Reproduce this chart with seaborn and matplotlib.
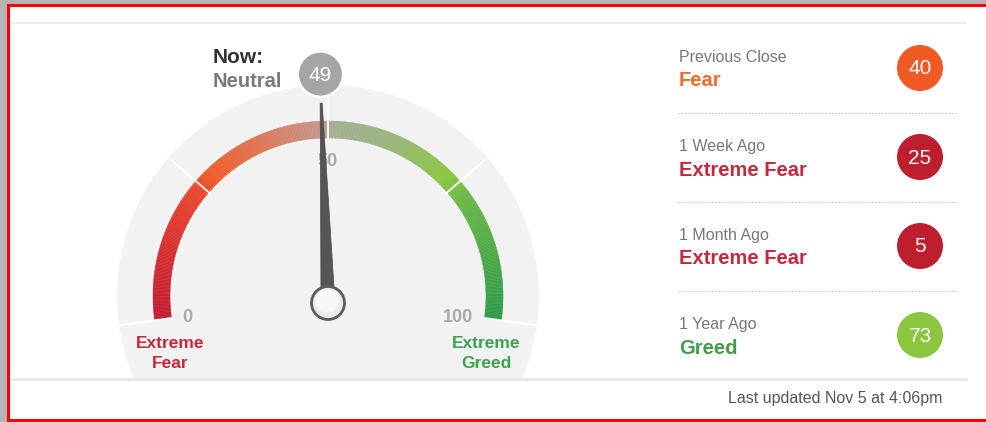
import numpy as np
import pandas as pd
import matplotlib.pyplot as plt
import seaborn as sns
from matplotlib.patches import Circle, Polygon, Rectangle
from matplotlib.collections import PolyCollection
from matplotlib.colors import LinearSegmentedColormap

# Fear & Greed index values
now_value = 49
now_rating = 'Neutral'
gauge_ticks = [0, 50, 100]
zone_edges = [0, 25, 50, 75, 100]
hist_periods = ['Previous Close', '1 Week Ago', '1 Month Ago', '1 Year Ago']
hist_values = [40, 25, 5, 73]
hist_ratings = ['Fear', 'Extreme Fear', 'Extreme Fear', 'Greed']
updated = 'Last updated Nov 5 at 4:06pm'

bubble_colors = {'Extreme Fear': '#bf1e2e', 'Fear': '#f15a24', 'Neutral': '#a5a5a5',
                 'Greed': '#8cc63f', 'Extreme Greed': '#2e9e47'}
text_colors = {'Extreme Fear': '#c8283c', 'Fear': '#f26a2e', 'Neutral': '#7a7a7a',
               'Greed': '#3f9e46', 'Extreme Greed': '#3aa34b'}

sns.set_theme(style='white')
plt.rcParams['font.family'] = ['Liberation Sans', 'DejaVu Sans']

fig = plt.figure(figsize=(9.87, 4.22), dpi=100, facecolor='#b5b5b5')
ax = fig.add_axes([0, 0, 1, 1])

# card with red frame
ax.add_patch(Rectangle((8, 4.5), 1000, 415, fc='white', ec='#ff0000', lw=2.2, zorder=0))
ax.plot([12, 966], [23, 23], color='#ececec', lw=1.5, zorder=1)

# gauge geometry (pixel space)
cx, cy = 328, 296
hub = (328, 303)
r_bg, r_out, r_in = 211, 175, 158


def ang(v):
    return np.radians(188 - 1.96 * v)


def pt(v, r, c=(cx, cy)):
    a = ang(v)
    return c[0] + r * np.cos(a), c[1] - r * np.sin(a)


# grey backdrop, cut at the bottom rule
lim = np.degrees(np.arcsin((378 - cy) / r_bg))
th = np.radians(np.linspace(-lim, 180 + lim, 300))
ax.add_patch(Polygon(np.column_stack([cx + r_bg * np.cos(th), cy - r_bg * np.sin(th)]),
                     closed=True, fc='#f2f2f2', ec='none', zorder=1))
ax.plot([12, 966], [379, 379], color='#e6e8e8', lw=2, zorder=1)

# coloured band
cmap = LinearSegmentedColormap.from_list('fg', [
    (0.0, '#c21b2f'), (0.12, '#d62d2e'), (0.24, '#e9452c'), (0.28, '#f05c2a'),
    (0.36, '#e2704c'), (0.5, '#bf9a92'), (0.505, '#a3ae97'), (0.62, '#97b678'),
    (0.73, '#8cc63f'), (0.77, '#6cb946'), (1.0, '#2b9a46')])
vs = np.linspace(0, 100, 401)
polys, cols = [], []
for v0, v1 in zip(vs[:-1], vs[1:]):
    polys.append([pt(v0, r_in), pt(v0, r_out), pt(v1, r_out), pt(v1, r_in)])
    cols.append(cmap((v0 + v1) / 200))
ax.add_collection(PolyCollection(polys, facecolors=cols, edgecolors=cols, linewidths=0.3, zorder=2))

# white zone separators
for v in zone_edges:
    (x0, y0), (x1, y1) = pt(v, r_in - 2), pt(v, r_bg + 1)
    ax.plot([x0, x1], [y0, y1], color='white', lw=1.3, zorder=3)

# tick labels
tick_pos = {0: (187, 318), 50: pt(50, 134), 100: (458, 318)}
for t in gauge_ticks:
    ax.text(*tick_pos[t], str(t), ha='center', va='center', color='#a9a9a9',
            fontsize=13, fontweight='bold', zorder=3)

for txt, x, col in [('Extreme\nFear', 170, text_colors['Extreme Fear']),
                    ('Extreme\nGreed', 486, text_colors['Extreme Greed'])]:
    ax.text(x, 348, txt.split('\n')[0], ha='center', va='baseline', color=col,
            fontsize=12.5, fontweight='bold', zorder=3)
    ax.text(x, 368.5, txt.split('\n')[1], ha='center', va='baseline', color=col,
            fontsize=12.5, fontweight='bold', zorder=3)

# needle
a = ang(now_value)
d = np.array([np.cos(a), -np.sin(a)])
n = np.array([np.sin(a), np.cos(a)])
h = np.array(hub)
tip = h + 200 * d
ax.add_patch(Polygon([h + 7 * n, tip + 1 * n, tip - 1 * n, h - 7 * n], closed=True,
                     fc='#555555', ec='#4a4a4a', lw=0.5, zorder=4))
ax.add_patch(Circle(hub, 16.5, fc='#ebebeb', ec='#5c5c5c', lw=2.0, zorder=5))
ax.add_patch(Circle((hub[0] - 1, hub[1] - 2), 12, fc='#f7f7f7', ec='none', zorder=5))

# current value bubble
bx, by = pt(now_value, 222)
ax.add_patch(Circle((bx, by), 22.5, fc=bubble_colors[now_rating], ec='white', lw=1.5, zorder=5))
ax.text(bx, by + 1, str(now_value), ha='center', va='center', color='white', fontsize=15, zorder=6)
ax.text(213, 63, 'Now:', ha='left', va='baseline', color='#333333', fontsize=15,
        fontweight='bold', zorder=6)
ax.text(213, 87, now_rating, ha='left', va='baseline', color=text_colors[now_rating],
        fontsize=14.5, fontweight='bold', zorder=6)

# history panel
hist = pd.DataFrame({'period': hist_periods, 'value': hist_values, 'rating': hist_ratings})
hist['x'] = 920
hist['y'] = 68 + 89 * np.arange(len(hist))
sns.scatterplot(data=hist, x='x', y='y', hue='rating', palette=bubble_colors, s=1097,
                linewidth=0, legend=False, ax=ax, zorder=5)
for i, row in hist.iterrows():
    ax.text(row['x'], row['y'] + 1, str(row['value']), ha='center', va='center',
            color='white', fontsize=15, zorder=6)
    ax.text(679, row['y'] - 6, row['period'], ha='left', va='baseline', color='#777777',
            fontsize=11.5, zorder=6)
    ax.text(679, row['y'] + 18.5, row['rating'], ha='left', va='baseline',
            color=text_colors[row['rating']], fontsize=14.5, fontweight='bold', zorder=6)
    if i < len(hist) - 1:
        ax.plot([678, 958], [row['y'] + 45, row['y'] + 45], color='#c8c8c8', lw=0.8,
                linestyle=(0, (1.5, 1.5)), zorder=2)

ax.text(942, 403, updated, ha='right', va='baseline', color='#555555', fontsize=11.5, zorder=6)

ax.set_xlim(0, 987)
ax.set_ylim(422, 0)
ax.axis('off')

fig.savefig('out.png', dpi=100, facecolor=fig.get_facecolor())
